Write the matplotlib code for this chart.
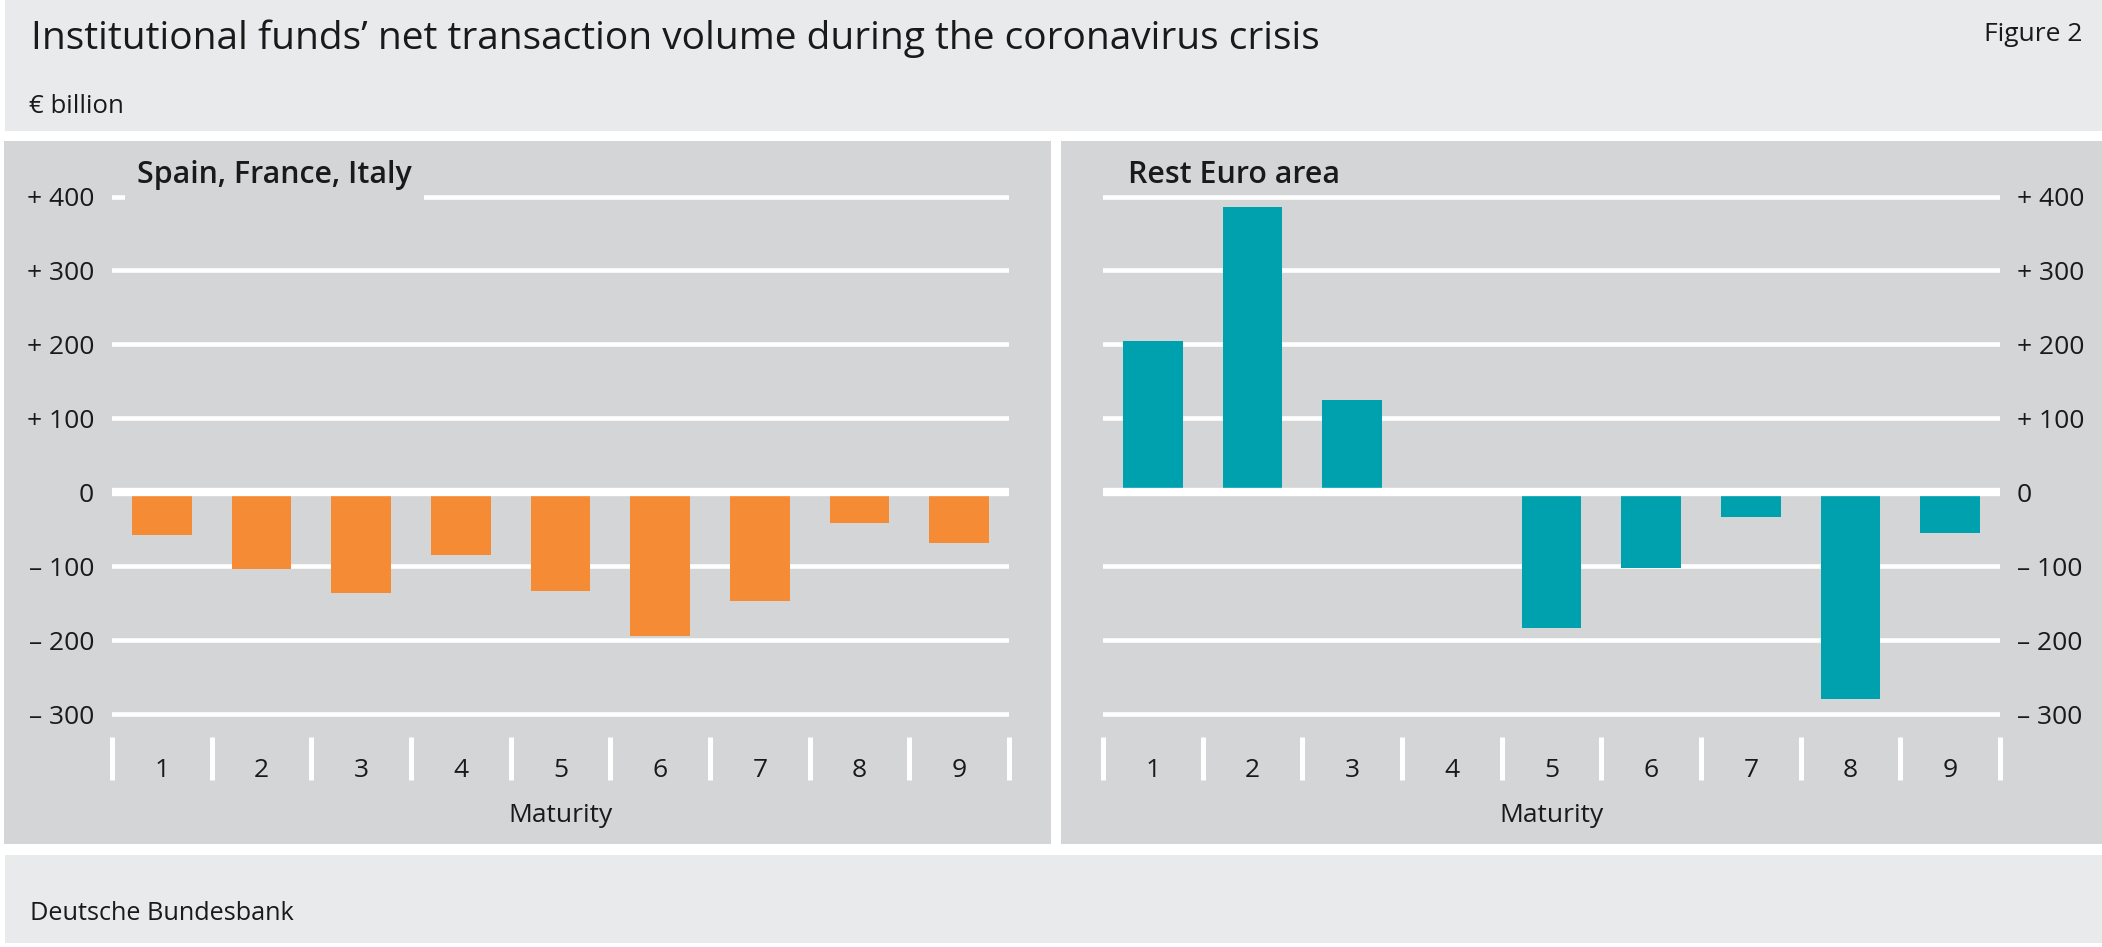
import matplotlib
matplotlib.use("Agg")
import matplotlib.pyplot as plt
from matplotlib.patches import Rectangle
from matplotlib.ticker import FixedLocator

# ---------------- data ----------------
maturity = [1, 2, 3, 4, 5, 6, 7, 8, 9]
spain_france_italy = [-58, -104, -136, -85, -133, -194, -147, -41, -69]
rest_euro_area = [204, 386, 125, 0, -183, -102, -34, -279, -55]
y_ticks = [-300, -200, -100, 0, 100, 200, 300, 400]
y_tick_labels = ["\u2013 300", "\u2013 200", "\u2013 100", "0",
                 "+ 100", "+ 200", "+ 300", "+ 400"]
x_tick_labels = [str(m) for m in maturity]

title = "Institutional funds\u2019 net transaction volume during the coronavirus crisis"
unit = "\u20ac billion"
fig_no = "Figure 2"
source = "Deutsche Bundesbank"
panel_titles = ["Spain, France, Italy", "Rest Euro area"]
x_label = "Maturity"

# ---------------- style ----------------
plt.rcParams['font.family'] = ['Open Sans', 'DejaVu Sans']
HEAD_BG = "#e9eaec"
PANEL_BG = "#d4d5d7"
ORANGE = "#f68b35"
TEAL = "#00a1af"
TXT = "#1a1a1a"

W, H = 2102, 947
fig = plt.figure(figsize=(W / 100, H / 100), dpi=100)
fig.patch.set_facecolor("white")


def fx(x):
    return x / W


def fy(y):
    return 1 - y / H


def rect(x0, y0, x1, y1, color):
    fig.add_artist(Rectangle((fx(x0), fy(y1)), (x1 - x0) / W, (y1 - y0) / H,
                             transform=fig.transFigure, facecolor=color,
                             edgecolor="none", zorder=-5))


rect(5, 0, W, 131.5, HEAD_BG)
rect(4, 141, 1051, 844.3, PANEL_BG)
rect(1061, 141, W, 844.3, PANEL_BG)
rect(5, 855, W, 943.3, HEAD_BG)

fig.text(fx(31), fy(49.3), title, fontsize=28.0, color=TXT, va="baseline", ha="left")
fig.text(fx(29), fy(113.3), unit, fontsize=18.5, color=TXT, va="baseline", ha="left")
fig.text(fx(2082), fy(40.7), fig_no, fontsize=19, color=TXT, va="baseline", ha="right")
fig.text(fx(30), fy(920), source, fontsize=18.2, color=TXT, va="baseline", ha="left")

ax_top, ax_bot = 188, 737
ylim = (-331, 411.5)
panels = [
    dict(x0=112, x1=1009, vals=spain_france_italy, color=ORANGE, side="left",
         title_x=137, title_y=183.3, box=True),
    dict(x0=1103, x1=2000, vals=rest_euro_area, color=TEAL, side="right",
         title_x=1128, title_y=182.7, box=False),
]

for p, ptitle in zip(panels, panel_titles):
    ax = fig.add_axes([fx(p["x0"]), fy(ax_bot), (p["x1"] - p["x0"]) / W,
                       (ax_bot - ax_top) / H])
    ax.set_facecolor("none")
    for s in ax.spines.values():
        s.set_visible(False)
    ax.set_xlim(0.5, 9.5)
    ax.set_ylim(*ylim)
    for v in y_ticks:
        if v != 0:
            ax.axhline(v, color="white", lw=3.3, zorder=1)
    ax.bar(maturity, p["vals"], width=0.6, color=p["color"], zorder=2)
    ax.axhline(0, color="white", lw=6, zorder=3)

    ax.xaxis.set_major_locator(FixedLocator(maturity))
    ax.set_xticklabels(x_tick_labels)
    ax.xaxis.set_minor_locator(FixedLocator([m - 0.5 for m in maturity] + [maturity[-1] + 0.5]))
    ax.tick_params(axis="x", which="major", length=0, pad=15, labelsize=19, labelcolor=TXT)
    ax.tick_params(axis="x", which="minor", length=31, width=3.6, color="white", direction="out")

    ax.set_yticks(y_ticks)
    ax.set_yticklabels(y_tick_labels)
    if p["side"] == "right":
        ax.yaxis.tick_right()
        ax.tick_params(axis="y", length=0, pad=12, labelsize=19, labelcolor=TXT)
    else:
        ax.tick_params(axis="y", length=0, pad=13, labelsize=19, labelcolor=TXT)

    kw = {}
    if p["box"]:
        kw["bbox"] = dict(boxstyle="square,pad=0.4", facecolor=PANEL_BG, edgecolor="none")
    fig.text(fx(p["title_x"]), fy(p["title_y"]), ptitle, fontsize=21.9, fontweight="semibold",
             color=TXT, va="baseline", ha="left", zorder=5, **kw)
    fig.text(fx((p["x0"] + p["x1"]) / 2), fy(821.7), x_label, fontsize=19, color=TXT,
             va="baseline", ha="center")

fig.savefig("out.png", dpi=100)
